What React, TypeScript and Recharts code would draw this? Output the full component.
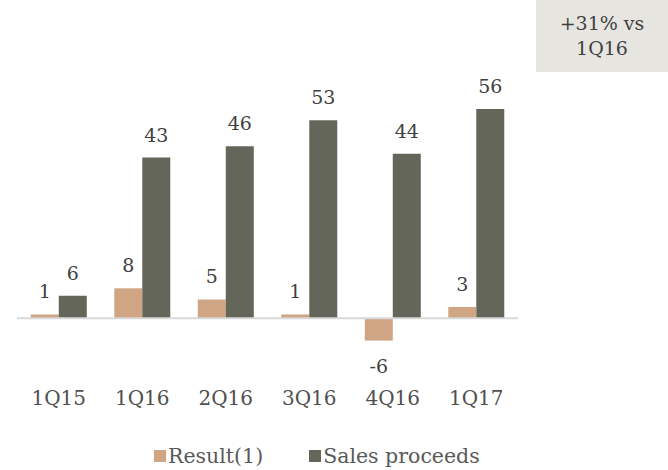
import React from 'react';
import {
    BarChart,
    Bar,
    XAxis,
    YAxis,
    ReferenceLine,
    LabelList,
    Legend
} from 'recharts';

const categories = ['1Q15', '1Q16', '2Q16', '3Q16', '4Q16', '1Q17'];
const resultValues = [1, 8, 5, 1, -6, 3];
const salesValues = [6, 43, 46, 53, 44, 56];
const calloutLines = ['+31% vs', '1Q16'];

const FONT = '"DejaVu Serif", serif';
const TAN = '#D0A584';
const DARK = '#64665A';

const data = categories.map((name, i) => ({
    name,
    result: resultValues[i],
    sales: salesValues[i]
}));

// value label sits ~23px off the end of the bar, below it when negative
const renderValue = (props: any) => {
    const { x, y, width, height, value } = props;
    const top = Math.min(y, y + height);
    const bottom = Math.max(y, y + height);
    const cy = value < 0 ? bottom + 25 : top - 23;
    return (
        <text
            x={x + width / 2}
            y={cy}
            textAnchor="middle"
            dominantBaseline="central"
            fill="#404040"
            fontSize={19}
            fontFamily={FONT}
        >
            {value}
        </text>
    );
};

const renderLegend = () => (
    <div style={{ display: 'flex', alignItems: 'center', height: 24, fontFamily: FONT, fontSize: 20.5, color: '#595959', whiteSpace: 'nowrap' }}>
        <span style={{ width: 12, height: 12, background: TAN, marginRight: 2, display: 'inline-block' }} />
        <span style={{ marginRight: 46 }}>Result(1)</span>
        <span style={{ width: 12, height: 12, background: DARK, marginRight: 2, display: 'inline-block' }} />
        <span>Sales proceeds</span>
    </div>
);

export default function App() {
    return (
        <div style={{ position: 'absolute', left: 0, top: 0, width: 668, height: 470, background: '#fff' }}>
            <BarChart
                width={668}
                height={470}
                data={data}
                margin={{ top: 94, right: 150, left: 17, bottom: 77 }}
                barCategoryGap="16.5%"
                barGap={0}
            >
                <XAxis
                    dataKey="name"
                    height={30}
                    axisLine={false}
                    tickLine={false}
                    tickSize={0}
                    tickMargin={28}
                    tick={{ fill: '#505050', fontSize: 20, fontFamily: FONT }}
                />
                <YAxis hide domain={[-12, 60]} allowDataOverflow />
                <ReferenceLine y={0} stroke="#D9D9D9" strokeWidth={2} />
                <Bar dataKey="result" fill={TAN} isAnimationActive={false}>
                    <LabelList dataKey="result" content={renderValue} />
                </Bar>
                <Bar dataKey="sales" fill={DARK} isAnimationActive={false}>
                    <LabelList dataKey="sales" content={renderValue} />
                </Bar>
                <Legend
                    layout="horizontal"
                    verticalAlign="middle"
                    align="center"
                    content={renderLegend}
                    wrapperStyle={{ left: 154, top: 444, width: 'auto', height: 24 }}
                />
            </BarChart>
            <div
                style={{
                    position: 'absolute',
                    left: 536,
                    top: 0,
                    width: 132,
                    height: 72,
                    background: '#E7E5E0',
                    color: '#404040',
                    fontFamily: FONT,
                    fontSize: 19,
                    lineHeight: '25px',
                    textAlign: 'center',
                    display: 'flex',
                    flexDirection: 'column',
                    justifyContent: 'center'
                }}
            >
                {calloutLines.map(l => <div key={l}>{l}</div>)}
            </div>
        </div>
    );
}
